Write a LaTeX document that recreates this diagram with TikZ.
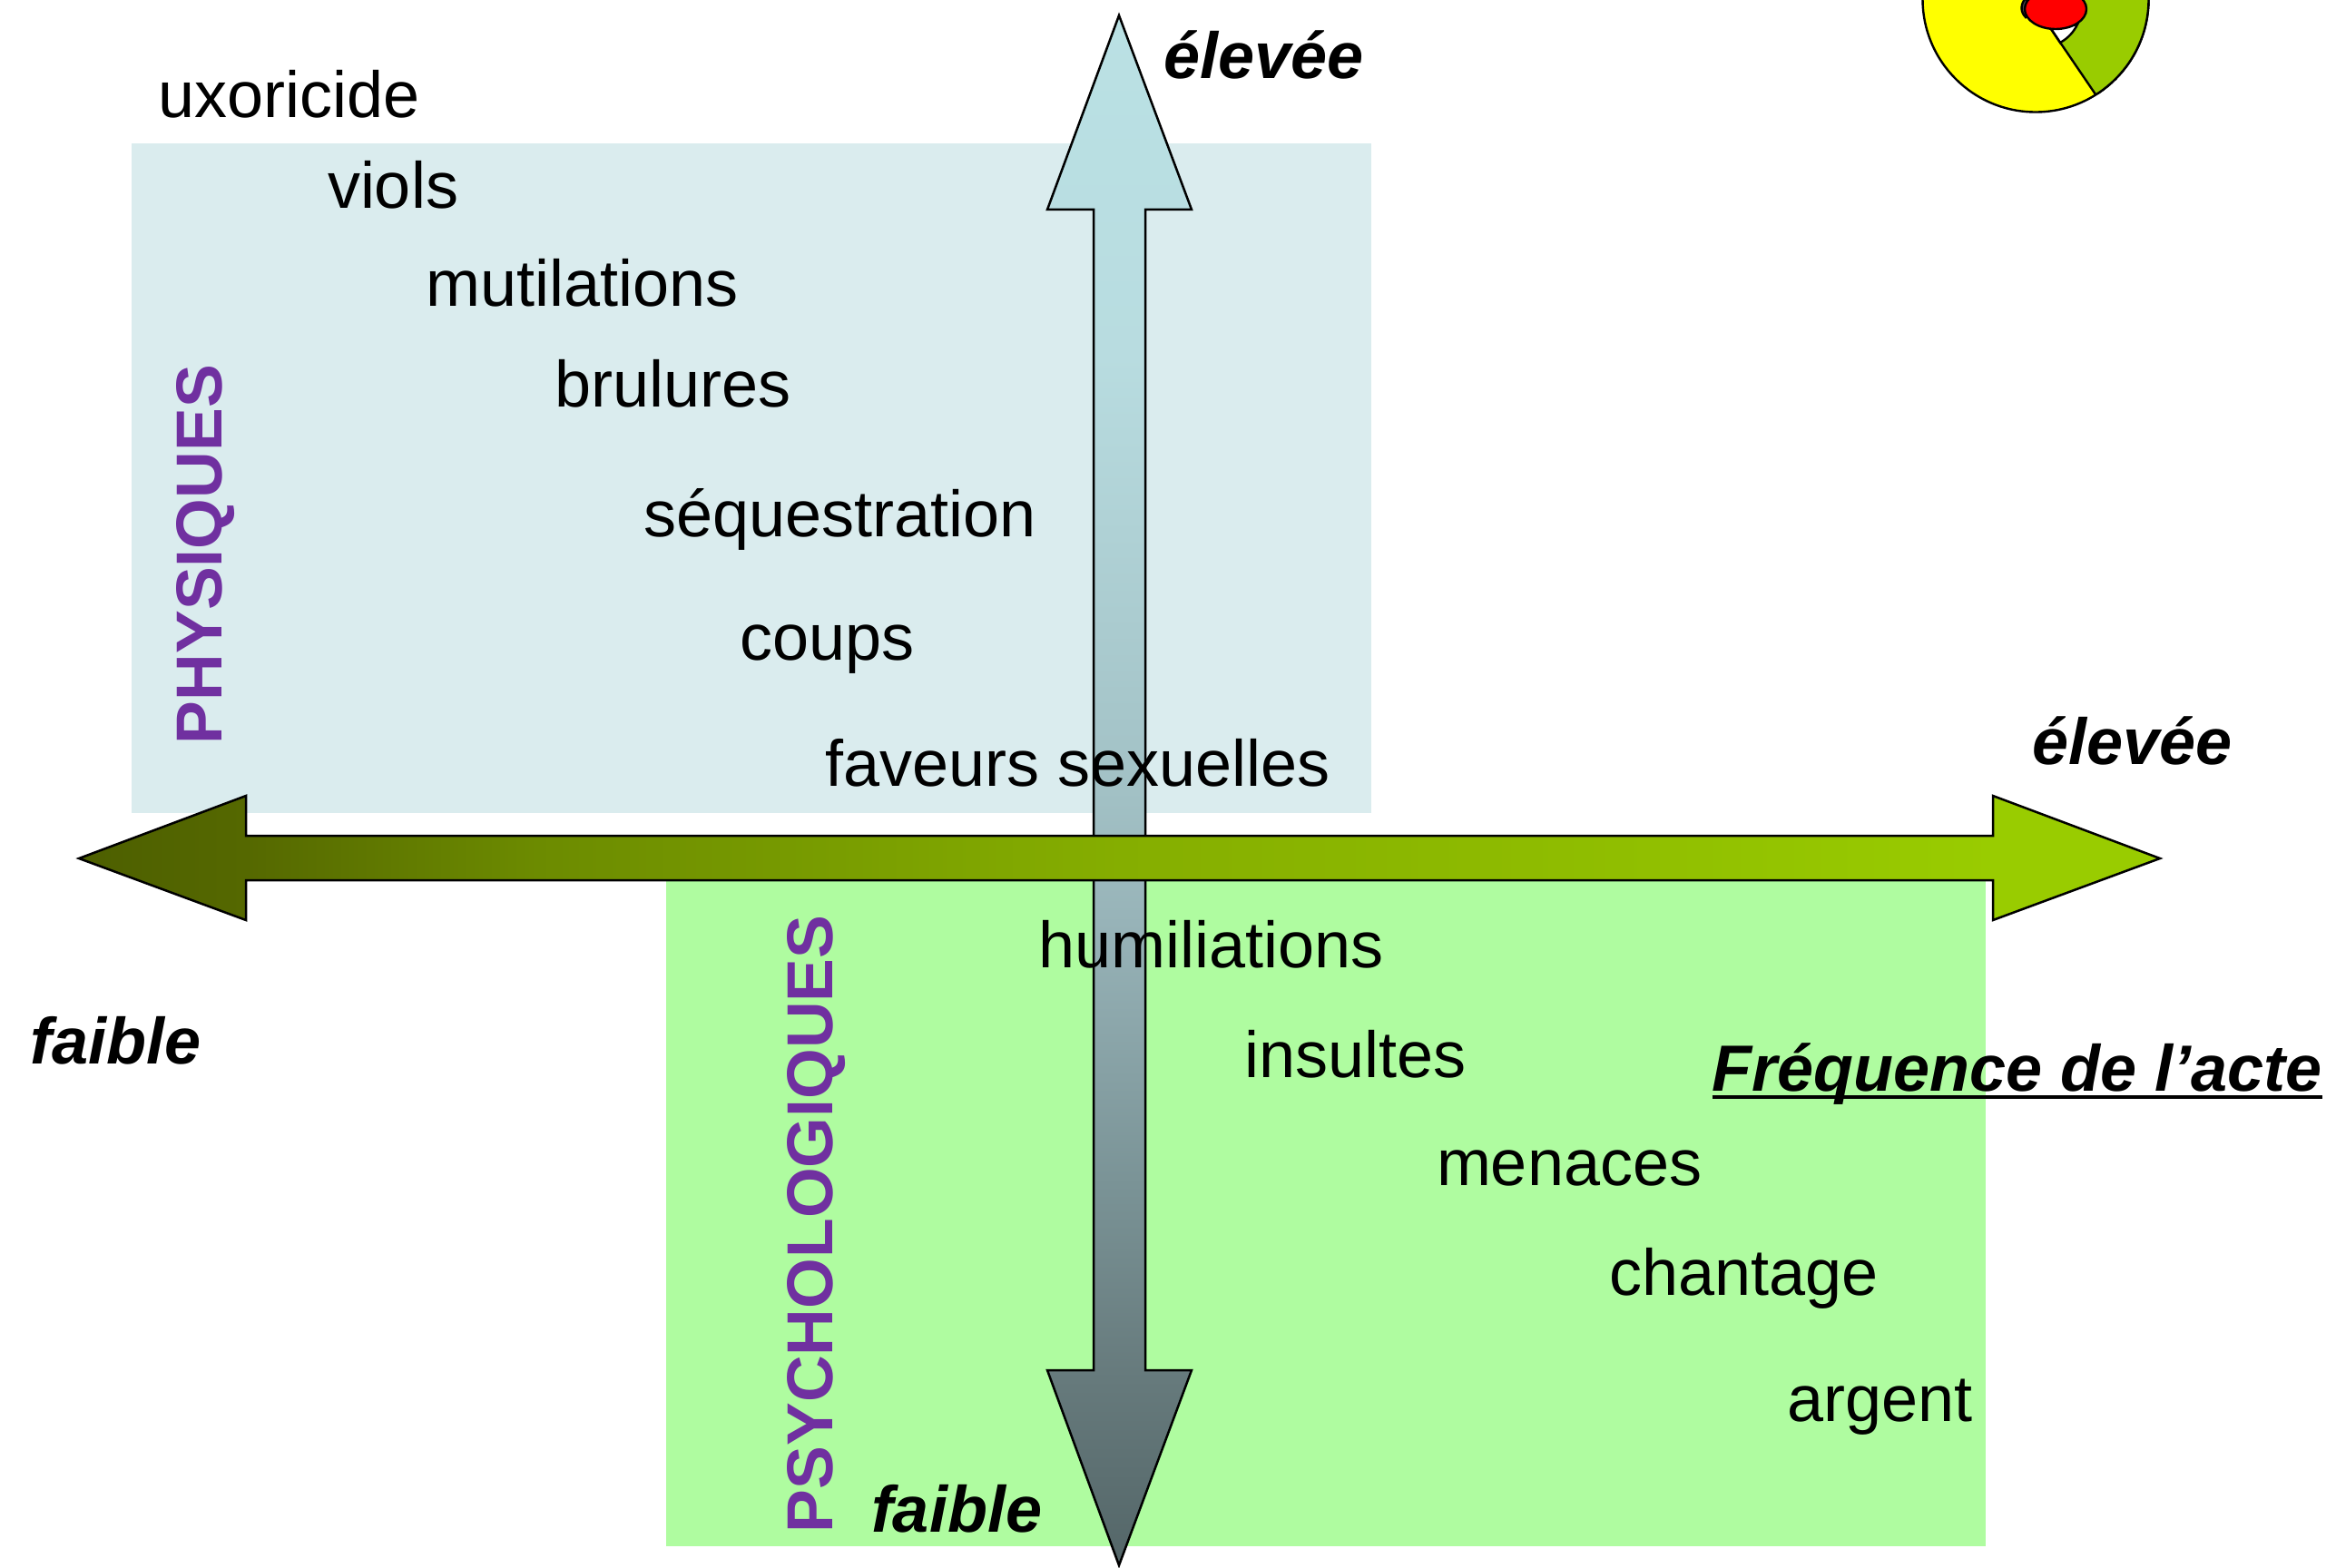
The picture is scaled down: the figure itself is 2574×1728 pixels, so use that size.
\documentclass[tikz,border=0pt]{standalone}
\usepackage{fontspec}
\setmainfont{Liberation Sans}
\definecolor{paleblue}{HTML}{DAECEE}
\definecolor{palegreen}{HTML}{AFFCA0}
\definecolor{catpurple}{HTML}{7030A0}
\definecolor{piegreen}{HTML}{99CC00}
\definecolor{pieyellow}{HTML}{FFFF00}
\definecolor{piered}{HTML}{FF0000}
\pgfdeclarehorizontalshading{axisramp}{100bp}{
  rgb(0bp)=(0.302,0.373,0);
  rgb(25bp)=(0.302,0.373,0);
  rgb(29bp)=(0.333,0.408,0);
  rgb(36bp)=(0.424,0.545,0);
  rgb(50bp)=(0.522,0.682,0);
  rgb(62bp)=(0.565,0.745,0);
  rgb(71bp)=(0.600,0.800,0);
  rgb(100bp)=(0.600,0.800,0)}
\pgfdeclareverticalshading{vertramp}{100bp}{
  rgb(0bp)=(0.329,0.400,0.408);
  rgb(25bp)=(0.329,0.400,0.408);
  rgb(31bp)=(0.400,0.478,0.486);
  rgb(37.25bp)=(0.478,0.576,0.588);
  rgb(46bp)=(0.596,0.706,0.725);
  rgb(50bp)=(0.635,0.757,0.773);
  rgb(64bp)=(0.722,0.863,0.878);
  rgb(75bp)=(0.729,0.882,0.894);
  rgb(100bp)=(0.729,0.882,0.894)}
\tikzset{
  x=0.5pt,y=-0.5pt,
  item/.style={anchor=base west,inner sep=0pt,outer sep=0pt,text=black,font=\fontsize{36}{40}\selectfont},
  axislabel/.style={anchor=base west,inner sep=0pt,outer sep=0pt,text=black,font=\fontsize{36}{40}\selectfont\bfseries\itshape},
  category/.style={anchor=base west,rotate=90,inner sep=0pt,outer sep=0pt,text=catpurple,font=\fontsize{35.8}{40}\selectfont\bfseries},
  arrowline/.style={draw=black,line width=1.25pt,line join=miter},
  pieline/.style={draw=black,line width=1.2pt}
}
\begin{document}
\begin{tikzpicture}
\useasboundingbox (0,0) rectangle (2574,1728);
\begin{scope}
\clip (0,0) rectangle (2574,1728);
% zones
\fill[paleblue] (145,158) rectangle (1511,896);
\fill[palegreen] (734,970) rectangle (2188,1704);
% vertical arrow
\path[arrowline,shading=vertramp]
  (1233,17) -- (1313,231) -- (1262,231) -- (1262,1510) -- (1313,1510) -- (1233,1725)
  -- (1154,1510) -- (1205,1510) -- (1205,231) -- (1154,231) -- cycle;
% horizontal arrow
\path[arrowline,shading=axisramp]
  (87,946) -- (271,877) -- (271,921) -- (2196,921) -- (2196,877) -- (2380,946)
  -- (2196,1014) -- (2196,970) -- (271,970) -- (271,1014) -- cycle;
% pie
\path[pieline,fill=pieyellow] (2243,-1) circle[radius=124.5];
\begin{scope}
  \clip (2270,47) -- (2309,104) -- (2400,104) -- (2400,-20) -- (2270,-20) -- cycle;
  \path[pieline,fill=piegreen] (2243,-1) circle[radius=124.5];
\end{scope}
\path[pieline,fill=white] (2260,32) -- (2270,47) .. controls (2279,42) and (2285,35) .. (2289,27) -- cycle;
\draw[pieline] (2260,32) -- (2309,104);
\path[pieline,fill=black!70] (2232,-2) .. controls (2226,5) and (2226,13) .. (2232,19) -- (2240,10) -- cycle;
\path[pieline,fill=piered] (2265,10) ellipse[x radius=34,y radius=22];
\end{scope}
% items
\node[item] (uxoricide) at (174,130) {uxoricide};
\node[item] (viols) at (361,230) {viols};
\node[item] (mutilations) at (469.5,337) {mutilations};
\node[item] (brulures) at (611,448.5) {brulures};
\node[item] (sequestration) at (709,591) {séquestration};
\node[item] (coups) at (815,727.5) {coups};
\node[item] (faveurs) at (909,866) {faveurs sexuelles};
\node[item] (humiliations) at (1144,1066) {humiliations};
\node[item] (insultes) at (1371,1187) {insultes};
\node[item] (menaces) at (1583,1306.5) {menaces};
\node[item] (chantage) at (1773,1427) {chantage};
\node[item] (argent) at (1969,1566.5) {argent};
% categories
\node[category] (physiques) at (244.5,820) {PHYSIQUES};
\node[category] (psycho) at (917.5,1689) {PSYCHOLOGIQUES};
% axis labels
\node[axislabel] (elevee1) at (1282,87) {élevée};
\node[axislabel] (elevee2) at (2239.5,842.5) {élevée};
\node[axislabel] (faible1) at (33.5,1172.5) {faible};
\node[axislabel] (faible2) at (960,1688) {faible};
\node[axislabel] (freq) at (1886.5,1202) {Fréquence de l’acte};
\draw[black,line width=1.6pt] ([yshift=-3.5pt]freq.base west) -- ([yshift=-3.5pt]freq.base east);
\end{tikzpicture}
\end{document}
